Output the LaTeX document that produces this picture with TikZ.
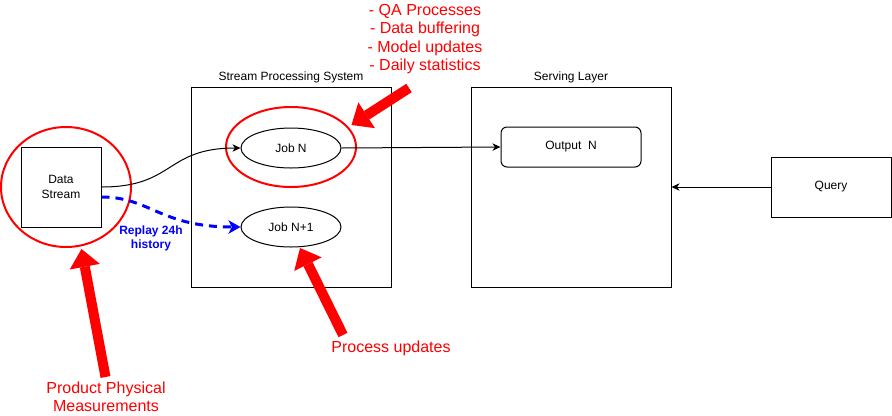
\documentclass[tikz,border=0pt]{standalone}
\usepackage{fontspec}
\setmainfont{Liberation Sans}
\usetikzlibrary{shapes.geometric,arrows.meta}
\begin{document}
\begin{tikzpicture}[x=0.75pt,y=-0.75pt,
  txt/.style={font=\fontsize{9}{10.8}\selectfont, align=center},
  redtxt/.style={text=red, font=\fontsize{12}{13.9}\selectfont, align=center},
  box/.style={draw, line width=0.75pt, inner sep=0pt, txt},
  job/.style={ellipse, draw, line width=0.75pt, minimum width=75pt, minimum height=30pt, inner sep=0pt, txt},
  hl/.style={ellipse, draw=red, line width=1.5pt, inner sep=0pt},
  conn/.style={line width=0.75pt, -{Stealth[length=6pt,width=5.5pt,inset=1.8pt]}},
  replay/.style={draw=blue, line width=2.25pt, dash pattern=on 6pt off 4.5pt, -{Stealth[length=9pt,width=10pt,inset=2.5pt]}},
  bigred/.style={draw=red, line width=7.5pt, -{Triangle[length=13.5pt,width=23pt,line width=0pt]}}
]
\useasboundingbox (0,0) rectangle (892,415);

% containers
\node[box, minimum width=150pt, minimum height=150pt] (sps) at (291,187) {};
\node[txt] (spsl) at (291,77) {Stream Processing System};
\node[box, minimum width=150pt, minimum height=150pt] (sl) at (571,187) {};
\node[txt] (sll) at (571,77) {Serving Layer};

% nodes
\node[box, minimum width=60pt, minimum height=60pt] (ds) at (61,187) {Data\\Stream};
\node[job] (jn) at (291,148) {Job N};
\node[job] (jn1) at (291,227) {Job N+1};
\node[box, rounded corners=4.5pt, minimum width=105pt, minimum height=30pt] (out) at (571,147) {Output\ \ N};
\node[box, minimum width=90pt, minimum height=45pt] (q) at (831,187) {Query};

% highlight ellipses
\node[hl, minimum width=97.5pt, minimum height=90pt] (hds) at (66,187) {};
\node[hl, minimum width=97.5pt, minimum height=60pt] (hjn) at (291,147) {};

% connectors
\draw[conn] (ds.east) .. controls (175,187) and (165,148) .. (jn.west);
\draw[replay] ([yshift=-7.5pt]ds.east) .. controls (150,197) and (160,227) .. (jn1.west);
\node[txt, text=blue, font=\fontsize{9}{10.5}\selectfont\bfseries] (rl) at (151,238) {Replay 24h\\history};
\draw[conn] (jn.east) -- (out.west);
\draw[conn] (q.west) -- (sl.east);

% annotation arrows
\coordinate (t1) at (105.5,377);
\coordinate (h1) at (81.5,249);
\coordinate (t2) at (343,335);
\coordinate (h2) at (300,248);
\coordinate (t3) at (409,88);
\coordinate (h3) at (351.5,125);
\draw[bigred] (t1) -- (h1);
\draw[bigred] (t2) -- (h2);
\draw[bigred] (t3) -- (h3);

% annotation texts
\node[redtxt] (a1) at (106,397) {Product Physical\\Measurements};
\node[redtxt] (a2) at (391,348) {Process updates};
\node[redtxt] (a3) at (425,39) {- QA Processes\\- Data buffering\\- Model updates\\- Daily statistics};
\end{tikzpicture}
\end{document}
